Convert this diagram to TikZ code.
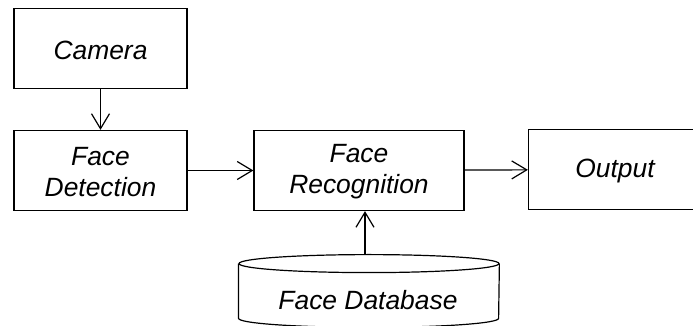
\documentclass[tikz,border=0pt]{standalone}
\usepackage{fontspec}
\setmainfont{Liberation Sans}
\usetikzlibrary{arrows.meta,calc}
\begin{document}
\begin{tikzpicture}[x=0.5pt,y=-0.5pt,
  txt/.style={font=\itshape\fontsize{13.2pt}{15.5pt}\selectfont, align=center},
  caption/.style={txt, yshift=-1pt},
  block/.style={draw, line width=0.6pt, minimum width=86.5pt, minimum height=40pt, inner sep=0pt},
  link/.style={line width=0.6pt, -{Straight Barb[length=7.5pt,width=9pt,line width=0.6pt]}}]
  \useasboundingbox (0,0) rectangle (693,326);

  % processing blocks, captions set slightly below centre
  \node[block, label={[caption]center:Camera}] (cam) at (100.5,48.5) {};
  \node[block, label={[caption]center:{Face\\Detection}}] (det) at (100.5,170.5) {};
  \node[block, minimum width=105pt, label={[caption, yshift=0.5pt]center:{Face\\Recognition}}] (rec) at (359,170.5) {};
  \node[block, label={[caption]center:Output}] (out) at (615,169.5) {};

  % database cylinder: an invisible frame node, outline drawn from its anchors
  \node[minimum width=130pt, minimum height=36pt, inner sep=0pt] (db) at (369,291) {};
  \node[txt] (dbtext) at (368,300) {Face Database};
  \begin{scope}[line width=0.6pt]
    \coordinate (tl) at ($(db.north west)+(0,9)$);
    \coordinate (tr) at ($(db.north east)+(0,9)$);
    \coordinate (bl) at ($(db.south west)+(0,-9)$);
    \coordinate (br) at ($(db.south east)+(0,-9)$);
    \draw ($(tl)!0.5!(tr)$) ellipse [x radius=65pt, y radius=4.5pt];
    \draw (tl) -- (bl) arc [start angle=180, end angle=360, x radius=65pt, y radius=4.5pt] -- (tr);
  \end{scope}

  % connectors
  \draw[link] (cam) -- (det);
  \draw[link] (det) -- (rec);
  \draw[link] (rec) -- (out);
  \draw[link] (db.north -| 365,0) -- (rec.south -| 365,0);
\end{tikzpicture}
\end{document}
